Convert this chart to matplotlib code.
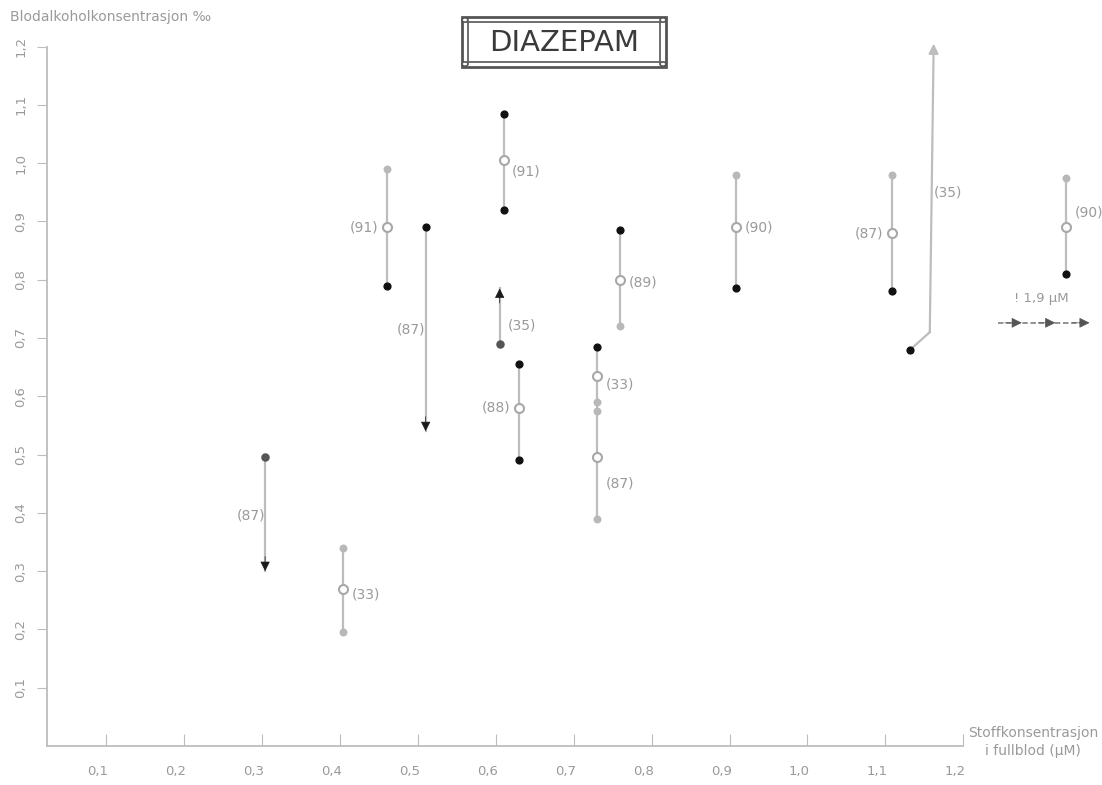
import numpy as np
import matplotlib.pyplot as plt
from matplotlib.patches import Rectangle
import matplotlib.transforms as mtransforms

# vertical ranges (gray lines)
bar_x = [0.404, 0.46, 0.61, 0.63, 0.73, 0.76, 0.908, 1.108, 1.332]
bar_top = [0.34, 0.99, 1.085, 0.655, 0.685, 0.885, 0.98, 0.98, 0.975]
bar_bot = [0.195, 0.79, 0.92, 0.49, 0.39, 0.72, 0.785, 0.78, 0.81]

# mean values (open circles) with number of cases
mean_x = [0.404, 0.46, 0.61, 0.63, 0.73, 0.73, 0.76, 0.908, 1.108, 1.332]
mean_y = [0.27, 0.89, 1.005, 0.58, 0.635, 0.495, 0.80, 0.89, 0.88, 0.89]
mean_n = ["(33)", "(91)", "(91)", "(88)", "(33)", "(87)", "(89)", "(90)", "(87)", "(90)"]
mean_side = ["r", "l", "r", "l", "r", "r", "r", "r", "l", "r"]
mean_dy = [-0.01, 0.0, -0.02, 0.0, -0.015, -0.045, -0.005, 0.0, 0.0, 0.025]

# end points
gray_x = [0.404, 0.404, 0.46, 0.73, 0.73, 0.73, 0.76, 0.908, 1.108, 1.332]
gray_y = [0.34, 0.195, 0.99, 0.59, 0.575, 0.39, 0.72, 0.98, 0.98, 0.975]
black_x = [0.46, 0.61, 0.61, 0.63, 0.63, 0.73, 0.76, 0.908, 1.108, 1.332, 0.51, 1.132]
black_y = [0.79, 1.085, 0.92, 0.655, 0.49, 0.685, 0.885, 0.785, 0.78, 0.81, 0.89, 0.68]
dark_x = [0.304, 0.605]
dark_y = [0.495, 0.69]

# change arrows
arrow_x = [0.304, 0.51, 0.605]
arrow_from = [0.495, 0.89, 0.69]
arrow_to = [0.30, 0.54, 0.785]
arrow_n = ["(87)", "(87)", "(35)"]
arrow_side = ["l", "l", "r"]
arrow_lbl_y = [0.395, 0.714, 0.722]

# long broken arrow
long_x = [1.132, 1.157, 1.162]
long_y = [0.68, 0.71, 1.205]

xticks = [0.1, 0.2, 0.3, 0.4, 0.5, 0.6, 0.7, 0.8, 0.9, 1.0, 1.1, 1.2]
yticks = [0.1, 0.2, 0.3, 0.4, 0.5, 0.6, 0.7, 0.8, 0.9, 1.0, 1.1, 1.2]

LINE = "#bdbdbd"
TXT = "#9a9a9a"

fig = plt.figure(figsize=(11.02, 7.85), dpi=100)
ax = fig.add_axes([0.0426, 0.0497, 0.9574, 0.9096])
ax.set_xlim(0.024, 1.378)
ax.set_ylim(0, 1.225)

for s in ["top", "right"]:
    ax.spines[s].set_visible(False)
ax.spines["left"].set_bounds(0, 1.2)
ax.spines["bottom"].set_bounds(0.024, 1.2)
for s in ["left", "bottom"]:
    ax.spines[s].set_color(LINE)
    ax.spines[s].set_linewidth(1.3)

ax.set_xticks(xticks)
ax.set_xticklabels([f"{v:.1f}".replace(".", ",") for v in xticks])
ax.set_yticks(yticks)
ax.set_yticklabels([f"{v:.1f}".replace(".", ",") for v in yticks], rotation=90, va="center")
ax.tick_params(axis="x", direction="in", length=9, color=LINE, labelcolor=TXT,
               labelsize=9.5, pad=14)
ax.tick_params(axis="y", direction="out", length=7, color=LINE, labelcolor=TXT,
               labelsize=9.5, pad=7)
shift = mtransforms.ScaledTranslation(-6 / 72, 0, fig.dpi_scale_trans)
for lab in ax.get_xticklabels():
    lab.set_transform(lab.get_transform() + shift)

# ranges
ax.vlines(bar_x, bar_bot, bar_top, color=LINE, lw=1.6, zorder=1)
ax.scatter(gray_x, gray_y, s=22, color="#b8b8b8", zorder=3)
ax.scatter(black_x, black_y, s=24, color="#111111", zorder=3)
ax.scatter(dark_x, dark_y, s=26, color="#555555", zorder=3)
ax.scatter(mean_x, mean_y, s=42, facecolor="white", edgecolor="#a8a8a8", lw=1.5, zorder=4)

for x, y, t, side, dy in zip(mean_x, mean_y, mean_n, mean_side, mean_dy):
    dx = 0.011 if side == "r" else -0.011
    ax.text(x + dx, y + dy, t, color=TXT, fontsize=10,
            ha="left" if side == "r" else "right", va="center")

# arrows: gray shaft, black head
for x, y0, y1, t, side, ly in zip(arrow_x, arrow_from, arrow_to, arrow_n, arrow_side, arrow_lbl_y):
    ax.plot([x, x], [y0, y1], color=LINE, lw=1.6, zorder=1)
    back = 0.025 if y1 < y0 else -0.025
    ax.annotate("", xy=(x, y1), xytext=(x, y1 + back),
                arrowprops=dict(arrowstyle="-|>", color="#1a1a1a", lw=0.5,
                                mutation_scale=15, shrinkA=0, shrinkB=0), zorder=3)
    dx = 0.011 if side == "r" else 0.0
    ax.text(x + dx, ly, t, color=TXT, fontsize=10,
            ha="left" if side == "r" else "right", va="center")

ax.plot(long_x[:2], long_y[:2], color=LINE, lw=1.6, zorder=1)
ax.annotate("", xy=(long_x[2], long_y[2]), xytext=(long_x[1], long_y[1]),
            arrowprops=dict(arrowstyle="-|>", color=LINE, lw=1.6,
                            mutation_scale=14, shrinkA=0, shrinkB=0), zorder=2)
ax.text(1.162, 0.95, "(35)", color=TXT, fontsize=10, ha="left", va="center")

# off-scale value at 1,9 uM
ax.text(1.30, 0.768, "! 1,9 µM", color=TXT, fontsize=9.5, ha="center", va="center")
ax.plot([1.245, 1.36], [0.726, 0.726], color="#8a8a8a", lw=1.3, ls=(0, (3, 1.5)), zorder=1)
for hx in [1.275, 1.318, 1.362]:
    ax.annotate("", xy=(hx, 0.726), xytext=(hx - 0.022, 0.726),
                arrowprops=dict(arrowstyle="-|>", color="#555555", lw=0.5,
                                mutation_scale=16, shrinkA=0, shrinkB=0))

# axis titles
fig.text(10 / 1102, 1 - 17 / 785, "Blodalkoholkonsentrasjon ‰", color=TXT,
         fontsize=10, ha="left", va="center")
fig.text(1033 / 1102, 1 - 742 / 785, "Stoffkonsentrasjon\ni fullblod (µM)", color=TXT,
         fontsize=10, ha="center", va="center", linespacing=1.4)

# framed title
W, H = 1102, 785
def frame(x0, y0, x1, y1, lw):
    fig.patches.append(Rectangle((x0 / W, 1 - y1 / H), (x1 - x0) / W, (y1 - y0) / H,
                                 transform=fig.transFigure, fill=False,
                                 edgecolor="#555555", lw=lw))
frame(462, 17, 666, 67, 2.0)
frame(468, 22, 660, 62, 1.2)
for cx, cy in [(465, 20), (663, 20), (465, 64), (663, 64)]:
    fig.patches.append(plt.Circle((cx / W, 1 - cy / H), 3 / W, transform=fig.transFigure,
                                  facecolor="white", edgecolor="#555555", lw=1.2))
fig.text(564 / W, 1 - 43 / H, "DIAZEPAM", fontsize=21, color="#3a3a3a",
         ha="center", va="center")

fig.savefig("out.png", dpi=100)
